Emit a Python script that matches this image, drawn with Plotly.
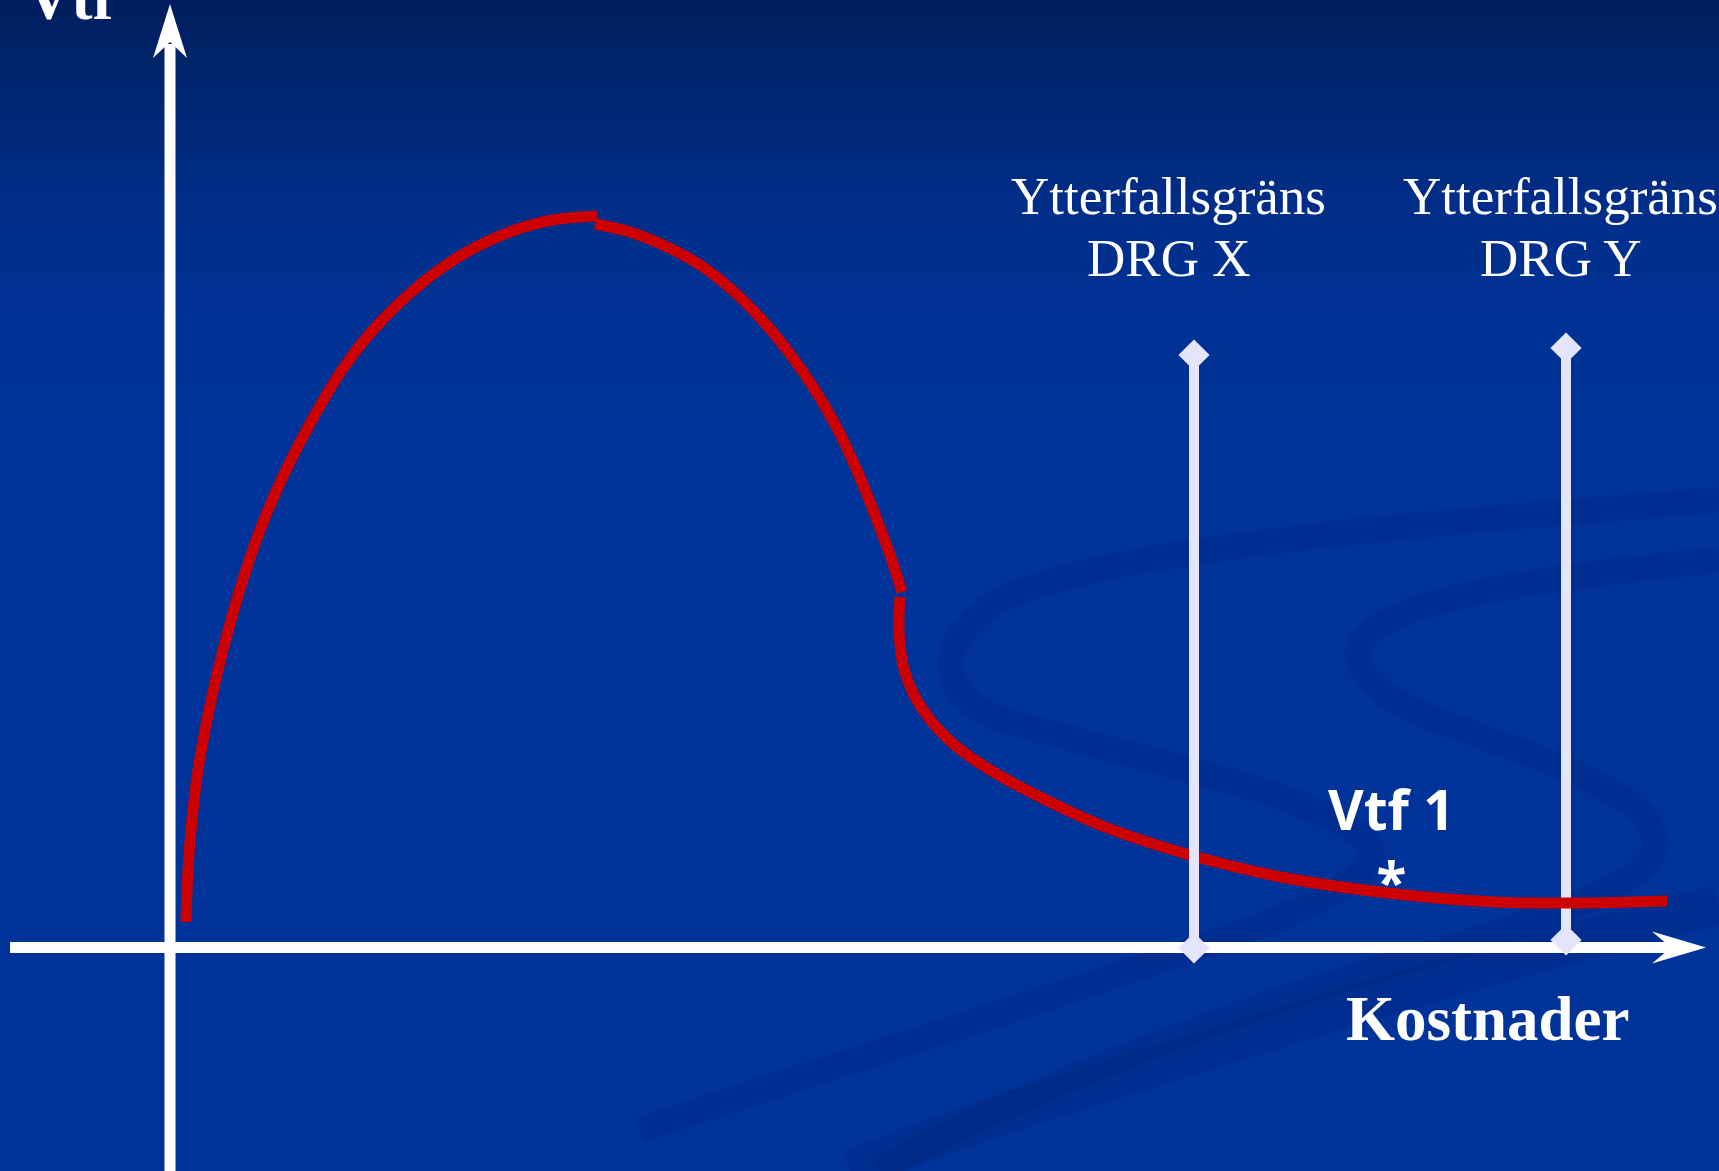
import plotly.graph_objects as go

W, H = 1719, 1171

# ---- red curve (three drawn pieces), pixel coordinates ----
rise_x = [186, 188, 192, 198, 207, 218, 231, 246, 264, 286, 312, 342, 373, 408, 446, 480, 515, 553, 597]
rise_y = [922, 870, 820, 770, 720, 670, 620, 570, 520, 470, 420, 370, 330, 295, 265, 245, 230, 220, 216]

fall_x = [595, 630, 665, 700, 732, 762, 790, 815, 838, 858, 875, 890, 902]
fall_y = [224, 232, 246, 265, 290, 320, 354, 390, 430, 473, 515, 555, 592]

tail_x = [900, 899, 903, 914, 932, 957, 990, 1040, 1105, 1190, 1281, 1388, 1495, 1576, 1667]
tail_y = [597, 630, 665, 695, 722, 747, 770, 797, 827, 855, 877, 893, 902, 903, 901]

# ---- outlier thresholds (Ytterfallsgräns) ----
thr_names = ["DRG X", "DRG Y"]
thr_x = [1194, 1566]
thr_top = [355, 348]
thr_bottom = [948, 940]
thr_label_top = ["Ytterfallsgräns", "Ytterfallsgräns"]
thr_label_x = [1168, 1560]

# ---- texts ----
y_title = "Vtf"
x_title = "Kostnader"
point_label = "Vtf 1"
point_mark = "*"
point_xy = (1391, 844)

# ---- axes geometry ----
origin = (170, 947.5)
x_axis_end = 1706
y_axis_top = 4

RED = "#CC0000"
LAV = "#E4E4FA"
SERIF = "Liberation Serif, Times New Roman, serif"
SANS = "Noto Sans, Arial, sans-serif"

fig = go.Figure()

shapes = []
# background vertical gradient
anchors = [(0, (0, 30, 92)), (100, (0, 38, 115)), (200, (0, 45, 135)),
           (300, (0, 49, 147)), (430, (0, 51, 153))]
step = 6
y = 0
while y < 430:
    for (ya, ca), (yb, cb) in zip(anchors[:-1], anchors[1:]):
        if ya <= y < yb:
            t = (y + step / 2 - ya) / (yb - ya)
            c = tuple(round(a + (b - a) * t) for a, b in zip(ca, cb))
            break
    shapes.append(dict(type="rect", xref="x", yref="y", x0=0, x1=W, y0=y, y1=y + step + 1,
                       fillcolor="rgb(%d,%d,%d)" % c, line=dict(width=0), layer="below"))
    y += step

# decorative swooshes
sw = "rgba(0,22,95,0.15)"
swooshes = [
    ("M 1719,500 C 1400,525 1100,550 1000,600 C 930,640 935,700 1010,722 "
     "C 1150,762 1300,790 1360,835 C 1395,862 1340,896 1250,930 C 1050,1000 850,1060 640,1130", 26),
    ("M 1719,560 C 1600,572 1430,590 1375,628 C 1330,662 1380,700 1450,725 "
     "C 1560,765 1665,800 1655,850 C 1648,882 1550,920 1400,962 C 1200,1022 1000,1100 880,1171", 26),
    ("M 1719,905 C 1500,960 1300,1020 1080,1090 C 980,1120 900,1150 850,1171", 40),
]
for p, wdt in swooshes:
    shapes.append(dict(type="path", xref="x", yref="y", path=p, line=dict(color=sw, width=wdt),
                       fillcolor="rgba(0,0,0,0)", layer="below"))

# axes with arrow heads
ox, oy = origin
shapes.append(dict(type="line", xref="x", yref="y", x0=ox, x1=ox, y0=H, y1=y_axis_top + 40,
                   line=dict(color="white", width=11), layer="below"))
shapes.append(dict(type="path", xref="x", yref="y",
                   path=f"M {ox},{y_axis_top} L {ox+17},{y_axis_top+54} L {ox},{y_axis_top+38} L {ox-17},{y_axis_top+54} Z",
                   fillcolor="white", line=dict(width=0), layer="below"))
shapes.append(dict(type="line", xref="x", yref="y", x0=10, x1=x_axis_end - 34, y0=oy, y1=oy,
                   line=dict(color="white", width=11), layer="below"))
shapes.append(dict(type="path", xref="x", yref="y",
                   path=f"M {x_axis_end},{oy} L {x_axis_end-54},{oy+16} L {x_axis_end-35},{oy} L {x_axis_end-54},{oy-16} Z",
                   fillcolor="white", line=dict(width=0), layer="below"))

def thr_trace(i):
    return go.Scatter(x=[thr_x[i], thr_x[i]], y=[thr_top[i], thr_bottom[i]], mode="lines+markers",
                      line=dict(color=LAV, width=10),
                      marker=dict(symbol="diamond", size=24, color=LAV),
                      hoverinfo="skip", showlegend=False)

fig.add_trace(thr_trace(1))
for xs, ys in [(rise_x, rise_y), (fall_x, fall_y), (tail_x, tail_y)]:
    fig.add_trace(go.Scatter(x=xs, y=ys, mode="lines",
                             line=dict(color=RED, width=11, shape="spline", smoothing=1.0),
                             hoverinfo="skip", showlegend=False))
fig.add_trace(thr_trace(0))

ann = []
for i in range(2):
    ann.append(dict(x=thr_label_x[i], y=196, text=thr_label_top[i], showarrow=False,
                    xanchor="center", yanchor="middle", xref="x", yref="y",
                    font=dict(family=SERIF, size=53, color="white")))
    ann.append(dict(x=thr_label_x[i], y=258, text=thr_names[i], showarrow=False,
                    xanchor="center", yanchor="middle", xref="x", yref="y",
                    font=dict(family=SERIF, size=53, color="white")))
ann.append(dict(x=1488, y=1019, text=f"<b>{x_title}</b>", showarrow=False,
                xanchor="center", yanchor="middle", xref="x", yref="y",
                font=dict(family=SERIF, size=63, color="white")))
ann.append(dict(x=24 / W, y=1 + 2 / H, text=f"<b>{y_title}</b>", showarrow=False,
                xanchor="left", yanchor="middle", xref="paper", yref="paper",
                font=dict(family=SERIF, size=63, color="white")))
ann.append(dict(x=point_xy[0], y=point_xy[1], text=f"<b>{point_label}</b><br><b>{point_mark}</b>",
                showarrow=False, align="center",
                xanchor="center", yanchor="middle", xref="x", yref="y",
                font=dict(family=SANS, size=55, color="white")))

fig.update_layout(
    width=W, height=H, margin=dict(l=0, r=0, t=0, b=0, pad=0),
    paper_bgcolor="#003399", plot_bgcolor="rgba(0,0,0,0)",
    xaxis=dict(range=[0, W], visible=False, fixedrange=True),
    yaxis=dict(range=[H, 0], visible=False, fixedrange=True),
    shapes=shapes, annotations=ann, showlegend=False,
)

fig.write_html("out.html", config={"displayModeBar": False})
